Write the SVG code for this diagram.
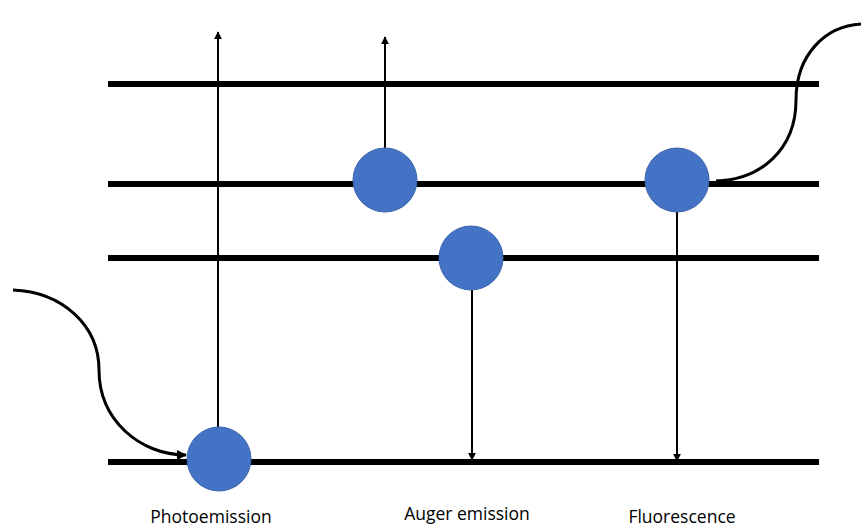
<svg xmlns="http://www.w3.org/2000/svg" width="861" height="525" viewBox="0 0 861 525">
<style>
.lvl{stroke:#000;stroke-width:6;fill:none}
.ln{stroke:#000;stroke-width:2;fill:none}
.cv{stroke:#000;stroke-width:3;fill:none}
.dot{fill:#4472C4;stroke:#3B64AD;stroke-width:1}
.lab{font-family:"Open Sans","Liberation Sans",sans-serif;font-size:17.5px;fill:#000}
</style>
<defs>
<marker id="ah" viewBox="0 0 10 10" refX="9" refY="5" markerWidth="4" markerHeight="4" orient="auto" markerUnits="strokeWidth">
<path d="M0,0 L10,5 L0,10 z" fill="#000"/>
</marker>
<marker id="ah2" viewBox="0 0 10 10" refX="9" refY="5" markerWidth="3.5" markerHeight="3.5" orient="auto" markerUnits="strokeWidth">
<path d="M0,0 L10,5 L0,10 z" fill="#000"/>
</marker>
</defs>
<g id="levels">
<line class="lvl" x1="108" y1="84" x2="819" y2="84"/>
<line class="lvl" x1="108" y1="184" x2="819" y2="184"/>
<line class="lvl" x1="108" y1="258" x2="819" y2="258"/>
<line class="lvl" x1="108" y1="462" x2="819" y2="462"/>
</g>
<g id="connectors">
<line class="ln" x1="218" y1="428" x2="218" y2="32" marker-end="url(#ah)"/>
<line class="ln" x1="385" y1="150" x2="385" y2="37" marker-end="url(#ah)"/>
<line class="ln" x1="472" y1="290" x2="472" y2="460" marker-end="url(#ah)"/>
<line class="ln" x1="677" y1="212" x2="677" y2="461" marker-end="url(#ah)"/>
<path class="cv" d="M13,290 C62,292 99,325 99,370 C99,420 140,455 186,455" marker-end="url(#ah2)"/>
<path class="cv" d="M716,181 C760,180 796,150 796,100 C796,55 825,26 861,24"/>
</g>
<g id="electron-photo"><circle class="dot" cx="219" cy="459" r="32"/></g>
<g id="electron-auger-up"><circle class="dot" cx="385" cy="180" r="32"/></g>
<g id="electron-auger-down"><circle class="dot" cx="471" cy="258" r="32"/></g>
<g id="electron-fluor"><circle class="dot" cx="677" cy="180" r="32"/></g>
<g id="labels">
<text class="lab" x="211" y="523" text-anchor="middle">Photoemission</text>
<text class="lab" x="467" y="520" text-anchor="middle">Auger emission</text>
<text class="lab" x="682" y="523" text-anchor="middle">Fluorescence</text>
</g>
</svg>
